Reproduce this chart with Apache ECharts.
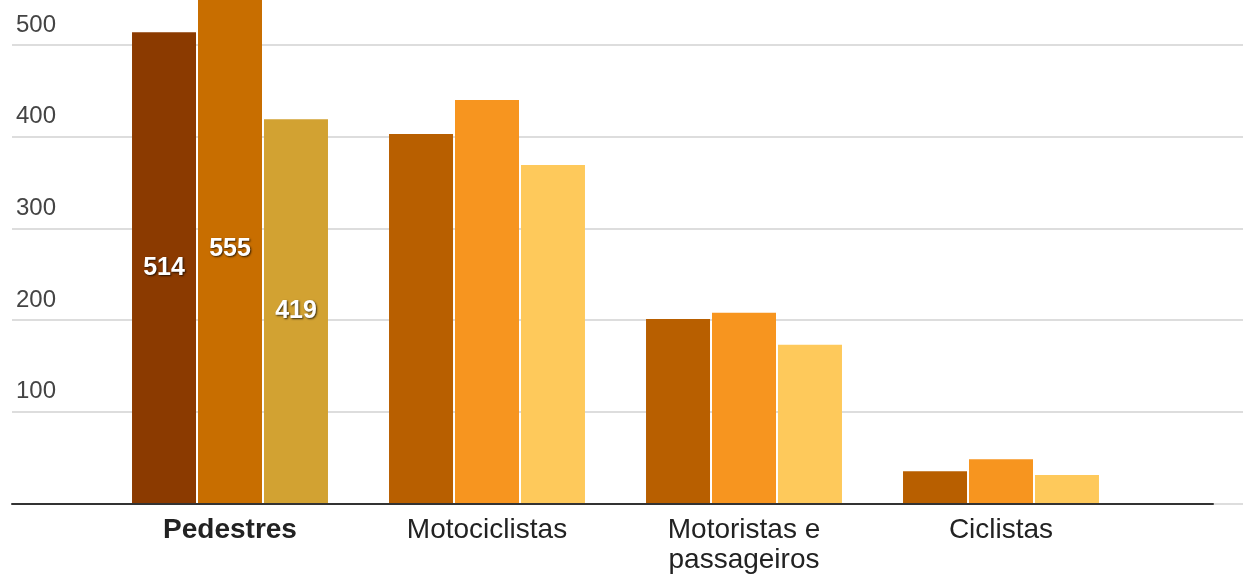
<!DOCTYPE html>
<html>
<head>
<meta charset="utf-8">
<script src="https://cdn.jsdelivr.net/npm/echarts@6/dist/echarts.min.js"></script>
<style>
  html, body { margin: 0; padding: 0; background: #fff; }
  #chart { width: 1243px; height: 576px; }
</style>
</head>
<body>
<div id="chart"></div>
<script>
// Victims by type of road user, three periods per group
const categories = ['Pedestres', 'Motociclistas', 'Motoristas e\npassageiros', 'Ciclistas'];
const periodA = [514, 403, 201, 35];
const periodB = [555, 440, 208, 48];
const periodC = [419, 369, 173, 31];

// Colours: the highlighted group uses a darker shade of each period
const highlightColors = ['#8b3a00', '#c86e00', '#d2a232'];
const baseColors = ['#b85f00', '#f7951f', '#fec95b'];
const highlightIndex = 0;

const yTicks = [0, 100, 200, 300, 400, 500, 600];
const yMin = yTicks[0];
const yMax = yTicks[yTicks.length - 1];
const yStep = 100;

const font = "'Liberation Sans', Arial, sans-serif";
const gridTop = -46.7;
const gridBottom = 72.7;

function makeSeries(values, idx) {
  return {
    type: 'bar',
    xAxisIndex: 2,
    yAxisIndex: 2,
    barWidth: 64,
    barGap: '3.1%',
    z: 2,
    data: values.map((v, i) => ({
      value: v,
      itemStyle: { color: i === highlightIndex ? highlightColors[idx] : baseColors[idx] },
      label: {
        show: i === highlightIndex,
        position: 'inside',
        color: '#ffffff',
        fontFamily: font,
        fontWeight: 'bold',
        fontSize: 25,
        textShadowColor: 'rgba(0,0,0,0.75)',
        textShadowBlur: 2,
        textShadowOffsetX: 1,
        textShadowOffsetY: 1
      }
    }))
  };
}

const chart = echarts.init(document.getElementById('chart'), null, { renderer: 'canvas' });
chart.setOption({
  animation: false,
  backgroundColor: '#ffffff',
  grid: [
    { left: 12, right: 0, top: gridTop, bottom: gridBottom, outerBoundsMode: 'none', containLabel: false },
    { left: 12, right: 30, top: gridTop, bottom: gridBottom, outerBoundsMode: 'none', containLabel: false },
    { left: 101.5, width: 1028, top: gridTop, bottom: gridBottom, outerBoundsMode: 'none', containLabel: false }
  ],
  xAxis: [
    { gridIndex: 0, type: 'value', show: false },
    {
      gridIndex: 1, type: 'value', z: 5,
      axisLine: { show: true, lineStyle: { color: '#333333', width: 2 } },
      axisTick: { show: false }, axisLabel: { show: false }, splitLine: { show: false }
    },
    {
      gridIndex: 2, type: 'category',
      data: categories.map((c, i) => ({
        value: c,
        textStyle: { fontWeight: i === highlightIndex ? 'bold' : 'normal' }
      })),
      axisLine: { show: false }, axisTick: { show: false },
      axisLabel: {
        interval: 0, margin: 12, color: '#222222', fontFamily: font,
        fontSize: 28, lineHeight: 30
      }
    }
  ],
  yAxis: [
    {
      gridIndex: 0, type: 'value', min: yMin, max: yMax, interval: yStep,
      axisLine: { show: false }, axisTick: { show: false },
      splitLine: { show: true, lineStyle: { color: '#dddddd', width: 2 } },
      axisLabel: {
        inside: true, margin: 4, color: '#444444', fontFamily: font, fontSize: 24,
        verticalAlign: 'bottom', padding: [0, 0, 8, 0],
        formatter: v => (v === 0 ? '' : String(v))
      }
    },
    { gridIndex: 1, type: 'value', min: yMin, max: yMax, show: false },
    { gridIndex: 2, type: 'value', min: yMin, max: yMax, show: false }
  ],
  series: [
    makeSeries(periodA, 0),
    makeSeries(periodB, 1),
    makeSeries(periodC, 2)
  ]
});
</script>
</body>
</html>
